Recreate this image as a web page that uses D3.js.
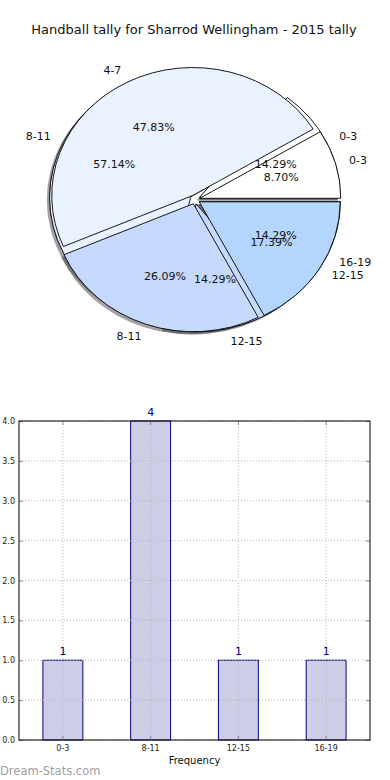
<!DOCTYPE html>
<html>
<head>
<meta charset="utf-8">
<script src="https://cdn.jsdelivr.net/npm/d3@7"></script>
<style>
  body { margin: 0; background: #fff; }
  svg { display: block; font-family: "DejaVu Sans", sans-serif; }
</style>
</head>
<body>
<svg id="chart" width="390" height="780"></svg>
<script>
// data
var titleText = "Handball tally for Sharrod Wellingham - 2015 tally";

// first pie (same as bar data)
var pieLabelsA = ["0-3", "8-11", "12-15", "16-19"];
var pieValuesA = [1, 4, 1, 1];

// second pie drawn over it
var pieLabelsB = ["0-3", "4-7", "8-11", "12-15"];
var pieValuesB = [2, 11, 6, 4];

var barLabels = ["0-3", "8-11", "12-15", "16-19"];
var barValues = [1, 4, 1, 1];
var yTicks = [0, 0.5, 1, 1.5, 2, 2.5, 3, 3.5, 4];

var sliceColors = ["#ffffff", "#eaf2ff", "#c6d9fe", "#b3d5fe"];

var svg = d3.select("#chart");

svg.append("text")
    .attr("x", 194)
    .attr("y", 34)
    .attr("text-anchor", "middle")
    .style("font-size", "13px")
    .style("fill", "#111")
    .text(titleText);

// ---- pie ----
var cx = 195, cy = 199.5, rx = 141, ry = 128;
var explode = 0.035;
var R = 100;

var pie = d3.pie()
    .sort(null)
    .startAngle(Math.PI / 2)
    .endAngle(Math.PI / 2 - 2 * Math.PI);

var arc = d3.arc().innerRadius(0).outerRadius(R);

function build(labels, values) {
    return pie(values).map(function(d, i) {
        var mid = (d.startAngle + d.endAngle) / 2;
        var ux = Math.sin(mid), uy = -Math.cos(mid);
        return {
            arc: d,
            label: labels[i],
            pct: (d.value / d3.sum(values) * 100).toFixed(2) + "%",
            color: sliceColors[i],
            ux: ux,
            uy: uy,
            ox: cx + explode * rx * ux,
            oy: cy + explode * ry * uy
        };
    });
}

var slicesA = build(pieLabelsA, pieValuesA);
var slicesB = build(pieLabelsB, pieValuesB);
var allSlices = slicesA.concat(slicesB);

var pieG = svg.append("g");

// shadows go under everything
pieG.selectAll("path.shadow")
    .data(allSlices)
    .enter()
    .append("path")
    .attr("class", "shadow")
    .attr("d", function(d) { return arc(d.arc); })
    .attr("transform", function(d) {
        return "translate(" + (d.ox - 0.02 * rx) + "," + (d.oy + 0.02 * ry) + ") scale(" + rx / R + "," + ry / R + ")";
    })
    .style("fill", "#333")
    .style("fill-opacity", 0.45);

function drawWedges(slices, cls) {
    pieG.selectAll("path." + cls)
        .data(slices)
        .enter()
        .append("path")
        .attr("class", cls)
        .attr("d", function(d) { return arc(d.arc); })
        .attr("transform", function(d) {
            return "translate(" + d.ox + "," + d.oy + ") scale(" + rx / R + "," + ry / R + ")";
        })
        .style("fill", function(d) { return d.color; })
        .style("stroke", "#000")
        .style("stroke-width", 0.9)
        .attr("vector-effect", "non-scaling-stroke");
}

drawWedges(slicesA, "wedgeA");
drawWedges(slicesB, "wedgeB");

function drawTexts(slices) {
    pieG.selectAll(null)
        .data(slices)
        .enter()
        .append("text")
        .attr("x", function(d) { return d.ox + 1.1 * rx * d.ux; })
        .attr("y", function(d) { return d.oy + 1.1 * ry * d.uy; })
        .attr("dy", "0.35em")
        .attr("text-anchor", function(d) { return d.ux >= 0 ? "start" : "end"; })
        .style("font-size", "11px")
        .style("fill", "#111")
        .text(function(d) { return d.label; });

    pieG.selectAll(null)
        .data(slices)
        .enter()
        .append("text")
        .attr("x", function(d) { return d.ox + 0.6 * rx * d.ux; })
        .attr("y", function(d) { return d.oy + 0.6 * ry * d.uy; })
        .attr("dy", "0.35em")
        .attr("text-anchor", "middle")
        .style("font-size", "11px")
        .style("fill", "#111")
        .text(function(d) { return d.pct; });
}

drawTexts(slicesA);
drawTexts(slicesB);

// ---- bar chart ----
var plotLeft = 19, plotRight = 370, plotTop = 421, plotBottom = 740;

var x = d3.scaleBand()
    .domain(barLabels)
    .range([plotLeft, plotRight])
    .paddingInner(0.545)
    .paddingOuter(0.2725);

var y = d3.scaleLinear()
    .domain([0, 4])
    .range([plotBottom, plotTop]);

var barG = svg.append("g");

// grid
barG.selectAll("line.hgrid")
    .data(yTicks)
    .enter()
    .append("line")
    .attr("class", "hgrid")
    .attr("x1", plotLeft).attr("x2", plotRight)
    .attr("y1", function(d) { return y(d); })
    .attr("y2", function(d) { return y(d); })
    .style("stroke", "#b8b8b8")
    .style("stroke-width", 1)
    .style("stroke-dasharray", "1,2");

barG.selectAll("line.vgrid")
    .data(barLabels)
    .enter()
    .append("line")
    .attr("class", "vgrid")
    .attr("x1", function(d) { return x(d) + x.bandwidth() / 2; })
    .attr("x2", function(d) { return x(d) + x.bandwidth() / 2; })
    .attr("y1", plotTop).attr("y2", plotBottom)
    .style("stroke", "#b8b8b8")
    .style("stroke-width", 1)
    .style("stroke-dasharray", "1,2");

// bars
barG.selectAll("rect.bar")
    .data(barValues)
    .enter()
    .append("rect")
    .attr("class", "bar")
    .attr("x", function(d, i) { return x(barLabels[i]); })
    .attr("y", function(d) { return y(d); })
    .attr("width", x.bandwidth())
    .attr("height", function(d) { return plotBottom - y(d); })
    .style("fill", "#cdcde5")
    .style("stroke", "#000080")
    .style("stroke-width", 1);

// grid shows through the bars in the reference
barG.selectAll("line.vgrid").raise();
barG.selectAll("line.hgrid").raise();

barG.selectAll("text.val")
    .data(barValues)
    .enter()
    .append("text")
    .attr("class", "val")
    .attr("x", function(d, i) { return x(barLabels[i]) + x.bandwidth() / 2; })
    .attr("y", function(d) { return y(d) - 5; })
    .attr("text-anchor", "middle")
    .style("font-size", "11px")
    .style("fill", "#000080")
    .text(function(d) { return d; });

// axes
var yAxis = d3.axisLeft(y).tickValues(yTicks).tickFormat(d3.format(".1f")).tickSize(-4).tickPadding(4);
var xAxis = d3.axisBottom(x).tickSize(-4).tickPadding(5);

var yG = barG.append("g").attr("transform", "translate(" + plotLeft + ",0)").call(yAxis);
var xG = barG.append("g").attr("transform", "translate(0," + plotBottom + ")").call(xAxis);

[yG, xG].forEach(function(g) {
    g.select(".domain").remove();
    g.selectAll(".tick line").style("stroke", "#888");
    g.selectAll(".tick text").style("font-size", "8px").style("fill", "#222")
        .style("font-family", "'DejaVu Sans', sans-serif");
});

// right and top ticks
barG.append("g").attr("transform", "translate(" + plotRight + ",0)")
    .call(d3.axisRight(y).tickValues(yTicks).tickSize(-4).tickFormat(""))
    .call(function(g) { g.select(".domain").remove(); g.selectAll("line").style("stroke", "#888"); });
barG.append("g").attr("transform", "translate(0," + plotTop + ")")
    .call(d3.axisTop(x).tickSize(-4).tickFormat(""))
    .call(function(g) { g.select(".domain").remove(); g.selectAll("line").style("stroke", "#888"); });

barG.append("rect")
    .attr("x", plotLeft).attr("y", plotTop)
    .attr("width", plotRight - plotLeft).attr("height", plotBottom - plotTop)
    .style("fill", "none")
    .style("stroke", "#000")
    .style("stroke-width", 1);

barG.append("text")
    .attr("x", (plotLeft + plotRight) / 2)
    .attr("y", 764)
    .attr("text-anchor", "middle")
    .style("font-size", "10px")
    .style("fill", "#111")
    .text("Frequency");

svg.append("text")
    .attr("x", 0)
    .attr("y", 775)
    .style("font-size", "11.5px")
    .style("fill", "#a0a0a0")
    .text("Dream-Stats.com");
</script>
</body>
</html>
